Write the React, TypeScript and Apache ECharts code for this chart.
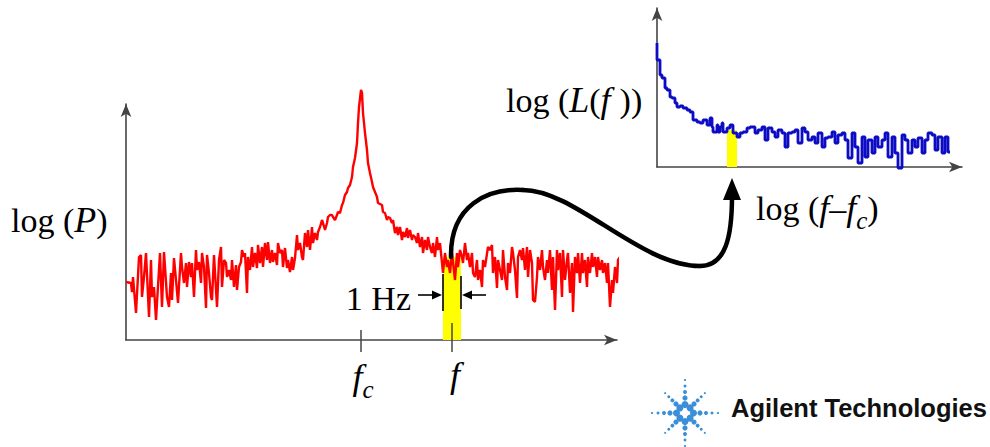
import React, { useEffect, useRef } from "react";
import * as echarts from "echarts";

// Left panel: power spectrum (frequency bin offset, log power)
const RED_FREQ = [0,5,6,7,10,13,15,16,18,20,23,25,26,28,30,31,34,36,38,41,43,45,46,48,50,52,55,56,58,60,61,63,65,66,68,70,71,73,75,76,78,80,81,83,85,86,88,91,93,95,96,98,100,101,103,105,106,108,110,111,113,115,116,118,119,121,122,124,126,127,129,131,132,134,136,137,139,141,142,144,146,147,149,151,152,154,156,157,159,161,162,164,166,167,169,171,172,174,176,177,179,181,182,184,186,187,189,191,192,194,196,197,199,201,202,204,206,207,209,211,212,214,216,217,219,221,222,224,226,227,229,231,232,233,235,236,237,239,241,242,244,246,247,249,251,252,254,256,257,259,261,262,264,266,267,269,271,272,274,276,277,279,281,282,284,286,287,289,291,292,294,296,297,299,301,302,304,306,307,309,311,312,314,316,317,319,321,322,324,326,327,329,331,332,334,336,337,339,341,342,344,346,347,349,351,352,354,356,357,359,362,364,366,367,369,371,372,374,376,377,379,381,382,384,386,387,389,391,392,394,396,397,399,401,402,404,406,407,409,411,412,414,416,417,419,421,422,424,426,427,429,431,432,434,436,437,439,441,442,444,446,447,449,451,452,454,456,457,459,461,462,464,466,467,469,471,472,474,476,477,479,481,482,484,486,487,489,491,492,494];
const RED_LOGP = [58,57,48,63,27,83,85,43,63,87,23,80,43,53,20,37,87,33,88,43,33,67,40,82,60,37,87,73,57,77,53,78,63,77,43,90,70,78,57,87,73,32,85,67,43,40,85,33,80,93,53,80,77,63,70,60,80,53,75,50,73,78,90,83,87,47,83,70,93,73,87,72,95,77,93,73,97,80,98,77,90,78,87,75,97,87,90,73,92,72,80,68,83,70,82,105,90,97,83,80,107,93,110,90,113,97,107,100,108,113,120,117,110,117,123,125,125,123,120,125,128,127,135,137,145,148,152,155,163,173,182,197,217,233,250,247,227,207,190,177,167,158,153,148,143,137,136,135,128,127,120,123,122,117,120,107,113,105,113,100,108,103,112,102,110,100,105,103,97,107,93,103,87,100,90,103,93,87,97,83,103,90,97,77,67,87,73,80,67,87,78,60,87,73,90,83,77,97,80,87,73,87,67,63,80,60,70,53,80,73,93,90,95,67,83,52,80,70,60,90,63,50,77,67,93,87,70,42,83,90,80,92,70,93,63,90,77,40,38,63,83,70,90,73,60,80,67,90,50,83,30,90,70,87,43,90,60,80,87,47,77,28,83,67,87,57,87,67,80,53,83,67,87,73,83,63,83,70,80,67,77,57,77,33,60,47,73,57,80,83];

// Right panel: phase noise (log offset, log L(f))
const BLUE_OFFSET = [0,0,3,5,8,10,13,15,18,20,23,26,30,33,36,40,43,46,50,53,55,56,60,61,63,65,66,70,73,76,80,83,86,90,93,98,101,105,108,111,115,118,121,125,128,131,135,138,141,145,148,151,155,158,161,165,168,171,175,178,181,185,188,191,195,198,201,205,208,211,215,218,221,225,228,231,235,238,241,245,248,251,255,258,261,265,268,271,275,278,281,285,288,291,293];
const BLUE_LOGL = [124,110,107,92,89,79,77,70,69,64,60,61,59,57,55,47,45,44,47,42,49,40,35,42,35,40,44,35,39,42,34,30,34,35,39,40,34,37,40,27,39,35,30,37,34,20,34,35,37,24,39,35,27,30,24,34,20,29,30,35,24,32,34,27,9,34,20,4,30,10,27,14,30,20,27,34,10,30,14,-1,32,27,14,27,20,29,14,27,34,32,17,30,14,30,15];

const FC = 235;            // carrier frequency bin
const F = 326;             // offset frequency bin
const BAND = [317, 335];   // 1 Hz band
const BAND_TOP = 83;
const BLUE_BAND = [70, 80];
const BLUE_BAND_TOP = 37;

const SERIF = "Liberation Serif";

export default function App() {
  const ref = useRef<HTMLDivElement>(null);
  useEffect(() => {
    const chart = echarts.init(ref.current!, null, { renderer: "svg" });
    const axisLine = {
      show: true,
      symbol: ["none", "arrow"],
      symbolSize: [8, 13],
      lineStyle: { color: "#444", width: 1.6 },
    };
    const hidden = {
      axisTick: { show: false },
      axisLabel: { show: false },
      splitLine: { show: false },
    };
    chart.setOption({
      animation: false,
      grid: [
        { left: 126, top: 104, width: 491, height: 236 },
        { left: 657, top: 8, width: 305, height: 159 },
      ],
      xAxis: [
        { type: "value", gridIndex: 0, min: 0, max: 491, axisLine, ...hidden },
        { type: "value", gridIndex: 1, min: 0, max: 305, axisLine, ...hidden },
      ],
      yAxis: [
        { type: "value", gridIndex: 0, min: 0, max: 236, axisLine, ...hidden },
        { type: "value", gridIndex: 1, min: 0, max: 159, axisLine, ...hidden },
      ],
      series: [
        {
          type: "line",
          xAxisIndex: 0,
          yAxisIndex: 0,
          data: RED_FREQ.map((x, i) => [x, RED_LOGP[i]]),
          showSymbol: false,
          clip: false,
          lineStyle: { color: "#ff0000", width: 2.4 },
          markArea: {
            silent: true,
            itemStyle: { color: "#ffff00", opacity: 1 },
            data: [[{ coord: [BAND[0], 0] }, { coord: [BAND[1], BAND_TOP] }]],
          },
          z: 3,
        },
        {
          type: "line",
          xAxisIndex: 1,
          yAxisIndex: 1,
          step: "start",
          data: BLUE_OFFSET.map((x, i) => [x, BLUE_LOGL[i]]),
          showSymbol: false,
          clip: false,
          lineStyle: { color: "#0c0cc4", width: 2.8 },
          markArea: {
            silent: true,
            itemStyle: { color: "#ffff00", opacity: 1 },
            data: [[{ coord: [BLUE_BAND[0], 0] }, { coord: [BLUE_BAND[1], BLUE_BAND_TOP] }]],
          },
          z: 3,
        },
      ],
    });

    const p0 = (v: number[]) => chart.convertToPixel({ gridIndex: 0 }, v) as number[];
    const p1 = (v: number[]) => chart.convertToPixel({ gridIndex: 1 }, v) as number[];
    const fc = p0([FC, 0]);
    const f = p0([F, 0]);
    const bL = p0([BAND[0], 0]);
    const bR = p0([BAND[1], 0]);
    const bTop = p0([(BAND[0] + BAND[1]) / 2, BAND_TOP]);
    const tip = p1([(BLUE_BAND[0] + BLUE_BAND[1]) / 2, 0]);

    const blk = { stroke: "#000", lineWidth: 1.6 };
    const elements: any[] = [];
    // axis ticks
    elements.push({ type: "line", shape: { x1: fc[0], y1: fc[1] - 10, x2: fc[0], y2: fc[1] + 12 }, style: { stroke: "#444", lineWidth: 1.5 }, z: 10 });
    elements.push({ type: "line", shape: { x1: f[0], y1: f[1] - 17, x2: f[0], y2: f[1] + 12 }, style: { stroke: "#444", lineWidth: 1.5 }, z: 10 });
    // tick labels
    const rich = {
      i: { fontFamily: SERIF, fontStyle: "italic", fontSize: 36, fill: "#000" },
      n: { fontFamily: SERIF, fontSize: 34, fill: "#000" },
      s: { fontFamily: SERIF, fontStyle: "italic", fontSize: 25, fill: "#000", padding: [24, 0, 0, 0] },
    };
    elements.push({ type: "text", x: fc[0] + 2, y: fc[1] + 37, style: { text: "{i|f}{s|c}", rich, align: "center", verticalAlign: "middle" }, z: 10 });
    elements.push({ type: "text", x: f[0] + 3, y: f[1] + 35, style: { text: "{i|f}", rich, align: "center", verticalAlign: "middle" }, z: 10 });
    // axis titles
    elements.push({ type: "text", x: 11, y: 220, style: { text: "{n|log (}{i|P}{n|)}", rich, verticalAlign: "middle" }, z: 10 });
    elements.push({ type: "text", x: 506, y: 100, style: { text: "{n|log (}{i|L}{n|(}{i|f }{n|))}", rich, verticalAlign: "middle" }, z: 10 });
    elements.push({ type: "text", x: 756, y: 208, style: { text: "{n|log (}{i|f}{n|–}{i|f}{s|c}{n|)}", rich, verticalAlign: "middle" }, z: 10 });
    // 1 Hz annotation
    const ay = 295;
    elements.push({ type: "line", shape: { x1: bL[0], y1: 274, x2: bL[0], y2: 311 }, style: blk, z: 10 });
    elements.push({ type: "line", shape: { x1: bR[0], y1: 276, x2: bR[0], y2: 309 }, style: blk, z: 10 });
    elements.push({ type: "line", shape: { x1: bL[0] - 25, y1: ay, x2: bL[0] - 6, y2: ay }, style: blk, z: 10 });
    elements.push({ type: "polygon", shape: { points: [[bL[0] - 1, ay], [bL[0] - 11, ay - 4.5], [bL[0] - 11, ay + 4.5]] }, style: { fill: "#000" }, z: 10 });
    elements.push({ type: "line", shape: { x1: bR[0] + 25, y1: ay, x2: bR[0] + 6, y2: ay }, style: blk, z: 10 });
    elements.push({ type: "polygon", shape: { points: [[bR[0] + 1, ay], [bR[0] + 11, ay - 4.5], [bR[0] + 11, ay + 4.5]] }, style: { fill: "#000" }, z: 10 });
    elements.push({ type: "text", x: bL[0] - 32, y: 298, style: { text: "{n|1 Hz}", rich, align: "right", verticalAlign: "middle" }, z: 10 });
    // black transfer arrow
    const sx = bTop[0] - 1, sy = bTop[1];
    const peak = [523, 190];
    const bottom = [700, 266];
    const ah = [tip[0], tip[1] + 11];
    const curve = { stroke: "#000", lineWidth: 4.5, lineCap: "round", fill: "none" };
    elements.push({ type: "bezierCurve", shape: { x1: sx, y1: sy, cpx1: sx - 1, cpy1: 205, cpx2: 488, cpy2: 188, x2: peak[0], y2: peak[1] }, style: curve, z: 12 });
    elements.push({ type: "bezierCurve", shape: { x1: peak[0], y1: peak[1], cpx1: 575, cpy1: 190, cpx2: 640, cpy2: 266, x2: bottom[0], y2: bottom[1] }, style: curve, z: 12 });
    elements.push({ type: "bezierCurve", shape: { x1: bottom[0], y1: bottom[1], cpx1: 726, cpy1: 266, cpx2: ah[0], cpy2: 236, x2: ah[0], y2: ah[1] + 18 }, style: curve, z: 12 });
    elements.push({ type: "polygon", shape: { points: [[ah[0], ah[1]], [ah[0] - 9, ah[1] + 22], [ah[0] + 9, ah[1] + 22]] }, style: { fill: "#000" }, z: 12 });

    // Agilent logo
    const cx = 685, cy = 413;
    const logoColor = "#3b8fd8";
    const radii = [8.5, 15, 21, 27, 33];
    const sizes = [3.5, 2.6, 2.0, 1.5, 1.1];
    for (let k = 0; k < 8; k++) {
      const a = (k * Math.PI) / 4;
      radii.forEach((r, j) => {
        const rr = k % 2 === 1 ? r * 0.85 : r;
        elements.push({ type: "circle", shape: { cx: cx + rr * Math.cos(a), cy: cy + rr * Math.sin(a), r: sizes[j] }, style: { fill: logoColor }, z: 10 });
      });
    }
    elements.push({ type: "text", x: 731, y: 408, style: { text: "Agilent Technologies", fontFamily: "Liberation Sans", fontWeight: "bold", fontSize: 25.5, fill: "#111", verticalAlign: "middle" }, z: 10 });

    chart.setOption({ graphic: { elements } });
    return () => chart.dispose();
  }, []);
  return <div ref={ref} style={{ position: "absolute", left: 0, top: 0, width: 990, height: 447 }} />;
}
